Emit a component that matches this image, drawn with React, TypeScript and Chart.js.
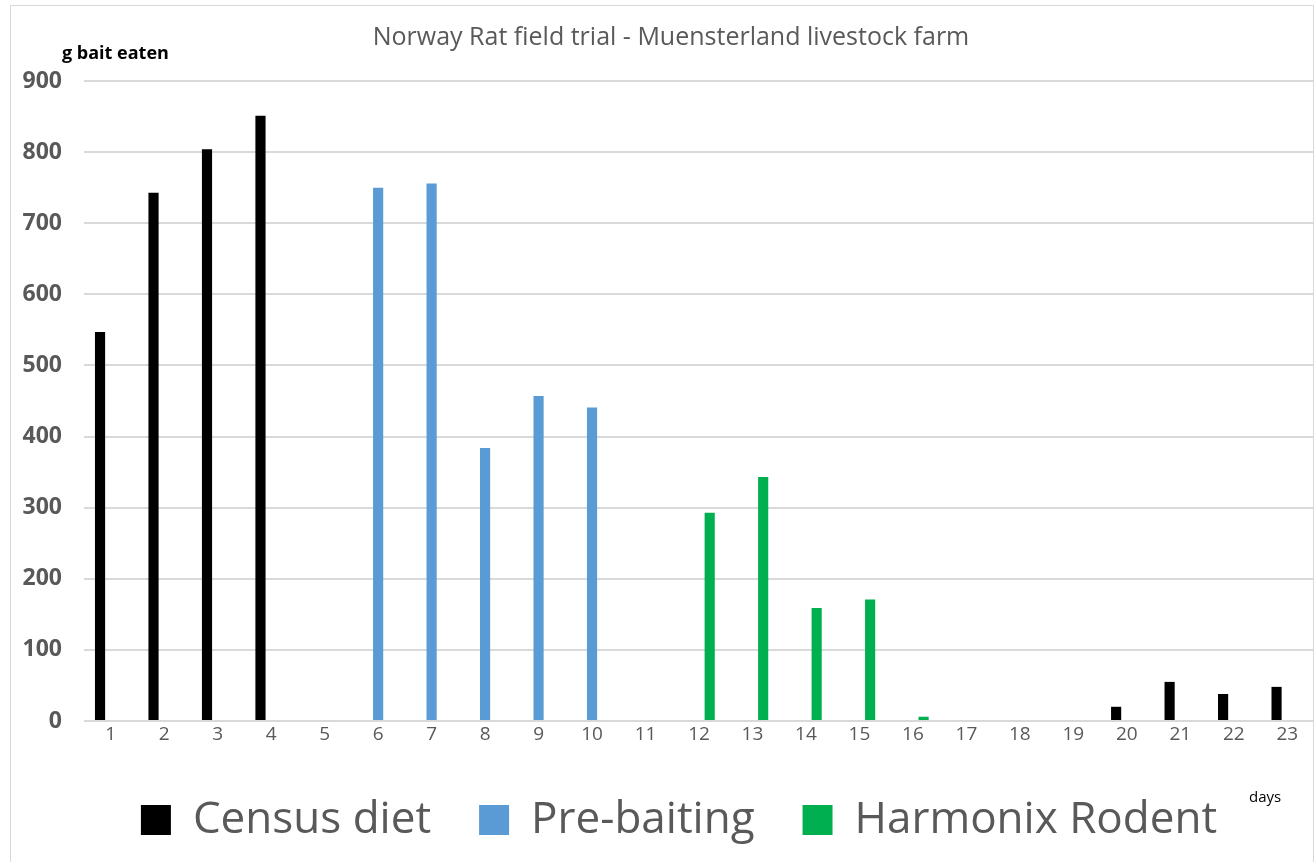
import React, { useEffect, useRef } from "react";
import { Chart, registerables } from "chart.js";

Chart.register(...registerables);

const days: string[] = Array.from({ length: 23 }, (_, i) => String(i + 1));
const censusDiet: (number | null)[] = [547, 743, 804, 851, null, null, null, null, null, null, null, null, null, null, null, null, null, null, null, 20, 55, 38, 48];
const preBaiting: (number | null)[] = [null, null, null, null, null, 750, 756, 384, 457, 441, null, null, null, null, null, null, null, null, null, null, null, null, null];
const harmonixRodent: (number | null)[] = [null, null, null, null, null, null, null, null, null, null, null, 293, 343, 159, 171, 6, null, null, null, null, null, null, null];
const yTicks: number[] = [0, 100, 200, 300, 400, 500, 600, 700, 800, 900];

const TITLE = "Norway Rat field trial - Muensterland livestock farm";
const Y_LABEL = "g bait eaten";
const X_LABEL = "days";
const FONT = "'Open Sans', 'Noto Sans', sans-serif";

const decorPlugin = {
  id: "decor",
  afterLayout(chart: any) {
    // centre the legend row like the original (slightly right of the page centre)
    if (chart.legend) {
      chart.legend.left += 22;
      chart.legend.right += 22;
    }
  },
  beforeDraw(chart: any) {
    const ctx = chart.ctx;
    ctx.save();
    ctx.fillStyle = "#ffffff";
    ctx.fillRect(0, 0, chart.width, chart.height);
    ctx.strokeStyle = "#d9d9d9";
    ctx.lineWidth = 1;
    ctx.strokeRect(10.5, 5.5, 1303, 900);
    ctx.restore();
  },
  afterDraw(chart: any) {
    const ctx = chart.ctx;
    ctx.save();
    ctx.textBaseline = "middle";
    ctx.textAlign = "center";
    ctx.fillStyle = "#595959";
    ctx.font = `25px ${FONT}`;
    ctx.fillText(TITLE, 671, 38);
    ctx.textAlign = "left";
    ctx.fillStyle = "#000000";
    ctx.font = `bold 18px ${FONT}`;
    ctx.fillText(Y_LABEL, 62, 54);
    ctx.font = `15px ${FONT}`;
    ctx.fillText(X_LABEL, 1249, 798);
    ctx.restore();
  },
};

export default function App() {
  const ref = useRef<HTMLCanvasElement | null>(null);
  useEffect(() => {
    if (!ref.current) return;
    const chart = new Chart(ref.current, {
      type: "bar",
      data: {
        labels: days,
        datasets: [
          { label: "Census diet", data: censusDiet, backgroundColor: "#000000", borderWidth: 0 },
          { label: "Pre-baiting", data: preBaiting, backgroundColor: "#5b9bd5", borderWidth: 0 },
          { label: "Harmonix Rodent", data: harmonixRodent, backgroundColor: "#00b050", borderWidth: 0 },
        ],
      },
      options: {
        responsive: false,
        animation: false,
        events: [],
        datasets: { bar: { categoryPercentage: 0.6, barPercentage: 0.95 } },
        layout: { padding: { top: 81, left: 0, right: 1, bottom: 10 } },
        plugins: {
          title: { display: false },
          tooltip: { enabled: false },
          legend: {
            display: true,
            position: "bottom",
            labels: {
              boxWidth: 30,
              boxHeight: 30,
              padding: 48,
              color: "#595959",
              font: { family: FONT, size: 44 },
            },
          },
        },
        scales: {
          x: {
            grid: { display: false },
            border: { display: false },
            ticks: { color: "#595959", font: { family: FONT, size: 19 }, padding: -6, maxRotation: 0, autoSkip: false },
            afterFit: (s: any) => { s.height = 29; },
          },
          y: {
            min: 0,
            max: 900,
            afterBuildTicks: (s: any) => { s.ticks = yTicks.map((v) => ({ value: v })); },
            grid: { color: "#d9d9d9", lineWidth: 2, drawTicks: false },
            border: { display: false },
            ticks: { color: "#595959", font: { family: FONT, size: 23, weight: "bold" }, padding: 22 },
            afterFit: (s: any) => { s.width = 84; },
          },
        },
      },
      plugins: [decorPlugin],
    });
    return () => chart.destroy();
  }, []);
  return (
    <div style={{ position: "fixed", left: 0, top: 0, width: 1315, height: 862, background: "#fff" }}>
      <canvas ref={ref} width={1315} height={862} style={{ display: "block", width: 1315, height: 862 }} />
    </div>
  );
}
